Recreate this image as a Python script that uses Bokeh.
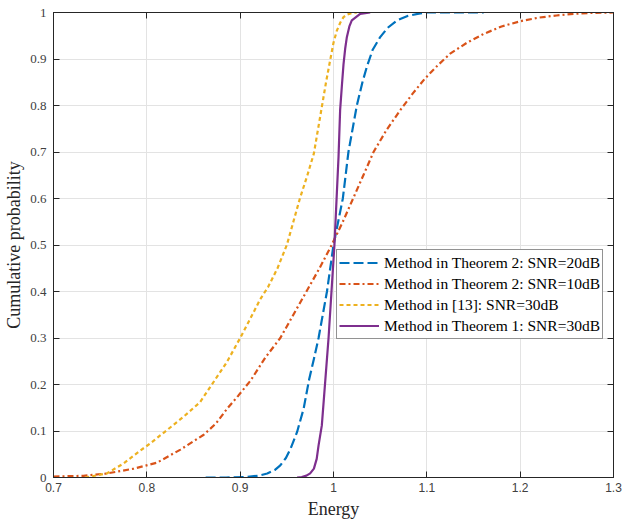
from bokeh.plotting import figure
from bokeh.models import Range1d, FixedTicker, LinearAxis, Legend, LegendItem
from bokeh.embed import file_html
from bokeh.resources import INLINE

# ---- data ----
x_ticks = [0.7, 0.8, 0.9, 1.0, 1.1, 1.2, 1.3]
x_tick_labels = ["0.7", "0.8", "0.9", "1", "1.1", "1.2", "1.3"]
y_ticks = [0.0, 0.1, 0.2, 0.3, 0.4, 0.5, 0.6, 0.7, 0.8, 0.9, 1.0]
y_tick_labels = ["0", "0.1", "0.2", "0.3", "0.4", "0.5", "0.6", "0.7", "0.8", "0.9", "1"]

series_names = [
    "Method in Theorem 2: SNR=20dB",
    "Method in Theorem 2: SNR=10dB",
    "Method in [13]: SNR=30dB",
    "Method in Theorem 1: SNR=30dB",
]

thm2_20_energy = [0.863, 0.885, 0.907, 0.920, 0.929, 0.937, 0.943, 0.949, 0.954, 0.961, 0.968,
                  0.974, 0.979, 0.984, 0.993, 1.000, 1.005, 1.010, 1.016, 1.025, 1.031, 1.0357,
                  1.042, 1.050, 1.058, 1.068, 1.080, 1.093, 1.100, 1.161]
thm2_20_prob = [0.0, 0.0, 0.001, 0.004, 0.0086, 0.016, 0.026, 0.042, 0.062, 0.098, 0.148,
                0.212, 0.255, 0.30, 0.40, 0.50, 0.55, 0.60, 0.70, 0.80, 0.85, 0.883,
                0.92, 0.947, 0.967, 0.983, 0.993, 0.998, 1.0, 1.0]

thm2_10_energy = [0.700, 0.732, 0.757, 0.786, 0.811, 0.836, 0.850, 0.861, 0.874, 0.886, 0.898,
                  0.911, 0.927, 0.943, 0.957, 0.971, 0.985, 0.998, 1.010, 1.021, 1.032, 1.0429,
                  1.057, 1.0715, 1.085, 1.098, 1.112, 1.125, 1.143, 1.161, 1.180, 1.2005,
                  1.220, 1.239, 1.257, 1.275, 1.300]
thm2_10_prob = [0.002, 0.0036, 0.0086, 0.019, 0.032, 0.060, 0.078, 0.092, 0.116, 0.148, 0.176,
                0.208, 0.258, 0.300, 0.350, 0.400, 0.450, 0.500, 0.550, 0.600, 0.650, 0.700,
                0.748, 0.790, 0.826, 0.858, 0.887, 0.9115, 0.935, 0.954, 0.970, 0.9814,
                0.989, 0.9936, 0.997, 0.999, 1.0]

ref13_energy = [0.734, 0.757, 0.775, 0.793, 0.8035, 0.821, 0.839, 0.857, 0.8697, 0.8857, 0.900,
                0.9107, 0.9214, 0.930, 0.940, 0.950, 0.957, 0.964, 0.972, 0.979, 0.9875, 0.992,
                0.9964, 1.000, 1.0036, 1.0072, 1.0107, 1.015, 1.0196, 1.025]
ref13_prob = [0.0, 0.0086, 0.030, 0.058, 0.073, 0.101, 0.130, 0.162, 0.200, 0.248, 0.300,
              0.341, 0.383, 0.410, 0.450, 0.500, 0.550, 0.600, 0.650, 0.697, 0.797, 0.850,
              0.897, 0.935, 0.961, 0.978, 0.990, 0.996, 0.999, 1.0]

thm1_energy = [0.961, 0.966, 0.971, 0.975, 0.979, 0.982, 0.984, 0.9875, 0.990, 0.9947, 1.001,
               1.0054, 1.0071, 1.009, 1.0107, 1.0125, 1.0143, 1.017, 1.0196, 1.0286, 1.0393]
thm1_prob = [0.0, 0.001, 0.004, 0.009, 0.019, 0.040, 0.069, 0.112, 0.177, 0.300, 0.500,
             0.690, 0.790, 0.843, 0.888, 0.922, 0.947, 0.970, 0.983, 0.997, 1.0]

colors = ["#0072BD", "#D95319", "#EDB120", "#7E2F8E"]
dashes = ["10 4", "6 3 2 3", "4 3", "solid"]

serif = "Liberation Serif"
sans = "Liberation Sans"
dark = "#262626"

p = figure(width=623, height=521, output_backend="svg", toolbar_location=None,
           x_range=Range1d(0.7, 1.3), y_range=Range1d(0, 1),
           min_border_left=53, min_border_right=10, min_border_top=12, min_border_bottom=42,
           background_fill_color="white", border_fill_color="white")
p.outline_line_color = dark
p.outline_line_width = 1

p.xaxis.ticker = FixedTicker(ticks=x_ticks)
p.yaxis.ticker = FixedTicker(ticks=y_ticks)
p.xaxis.major_label_overrides = dict(zip(x_ticks, x_tick_labels))
p.yaxis.major_label_overrides = dict(zip(y_ticks, y_tick_labels))
p.xgrid.ticker = FixedTicker(ticks=x_ticks)
p.ygrid.ticker = FixedTicker(ticks=y_ticks)
p.grid.grid_line_color = "#e3e3e3"
p.grid.grid_line_width = 1

for ax in [p.xaxis[0], p.yaxis[0]]:
    ax.axis_line_color = dark
    ax.major_tick_line_color = dark
    ax.major_tick_in = 6
    ax.major_tick_out = 0
    ax.minor_tick_line_color = None
    ax.major_label_text_color = "#404040"
    ax.axis_label_text_font = serif
    ax.axis_label_text_font_size = "18px"
    ax.axis_label_text_font_style = "normal"
    ax.axis_label_text_color = dark

p.xaxis.major_label_text_font = sans
p.xaxis.major_label_text_font_size = "12px"
p.xaxis.major_label_standoff = 5
p.xaxis.axis_label = "Energy"
p.xaxis.axis_label_standoff = 4
p.yaxis.major_label_text_font = serif
p.yaxis.major_label_text_font_size = "13px"
p.yaxis.major_label_standoff = 7
p.yaxis.axis_label = "Cumulative probability"
p.yaxis.axis_label_standoff = 3

# box ticks on top and right (no labels)
top_ax = LinearAxis(ticker=FixedTicker(ticks=x_ticks), major_tick_in=6, major_tick_out=0,
                    minor_tick_line_color=None, major_label_text_font_size="0px",
                    major_label_text_color=None, major_label_standoff=0,
                    axis_line_color=dark, major_tick_line_color=dark)
right_ax = LinearAxis(ticker=FixedTicker(ticks=y_ticks), major_tick_in=6, major_tick_out=0,
                      minor_tick_line_color=None, major_label_text_font_size="0px",
                      major_label_text_color=None, major_label_standoff=0,
                      axis_line_color=dark, major_tick_line_color=dark)
p.add_layout(top_ax, "above")
p.add_layout(right_ax, "right")

xs = [thm2_20_energy, thm2_10_energy, ref13_energy, thm1_energy]
ys = [thm2_20_prob, thm2_10_prob, ref13_prob, thm1_prob]
items = []
for name, x, y, c, d in zip(series_names, xs, ys, colors, dashes):
    r = p.line(x, y, line_color=c, line_width=2.2, line_dash=d, line_join="round")
    items.append(LegendItem(label=name, renderers=[r]))

legend = Legend(items=items, location=(283, 138), padding=2, spacing=0, margin=0,
                glyph_width=40, glyph_height=21, label_height=21, label_standoff=5,
                label_text_font=serif, label_text_font_size="15.5px", label_text_color="black",
                border_line_color=dark, border_line_width=1, background_fill_color="white",
                background_fill_alpha=1.0)
p.add_layout(legend)

open("out.html", "w").write(file_html(p, INLINE))
